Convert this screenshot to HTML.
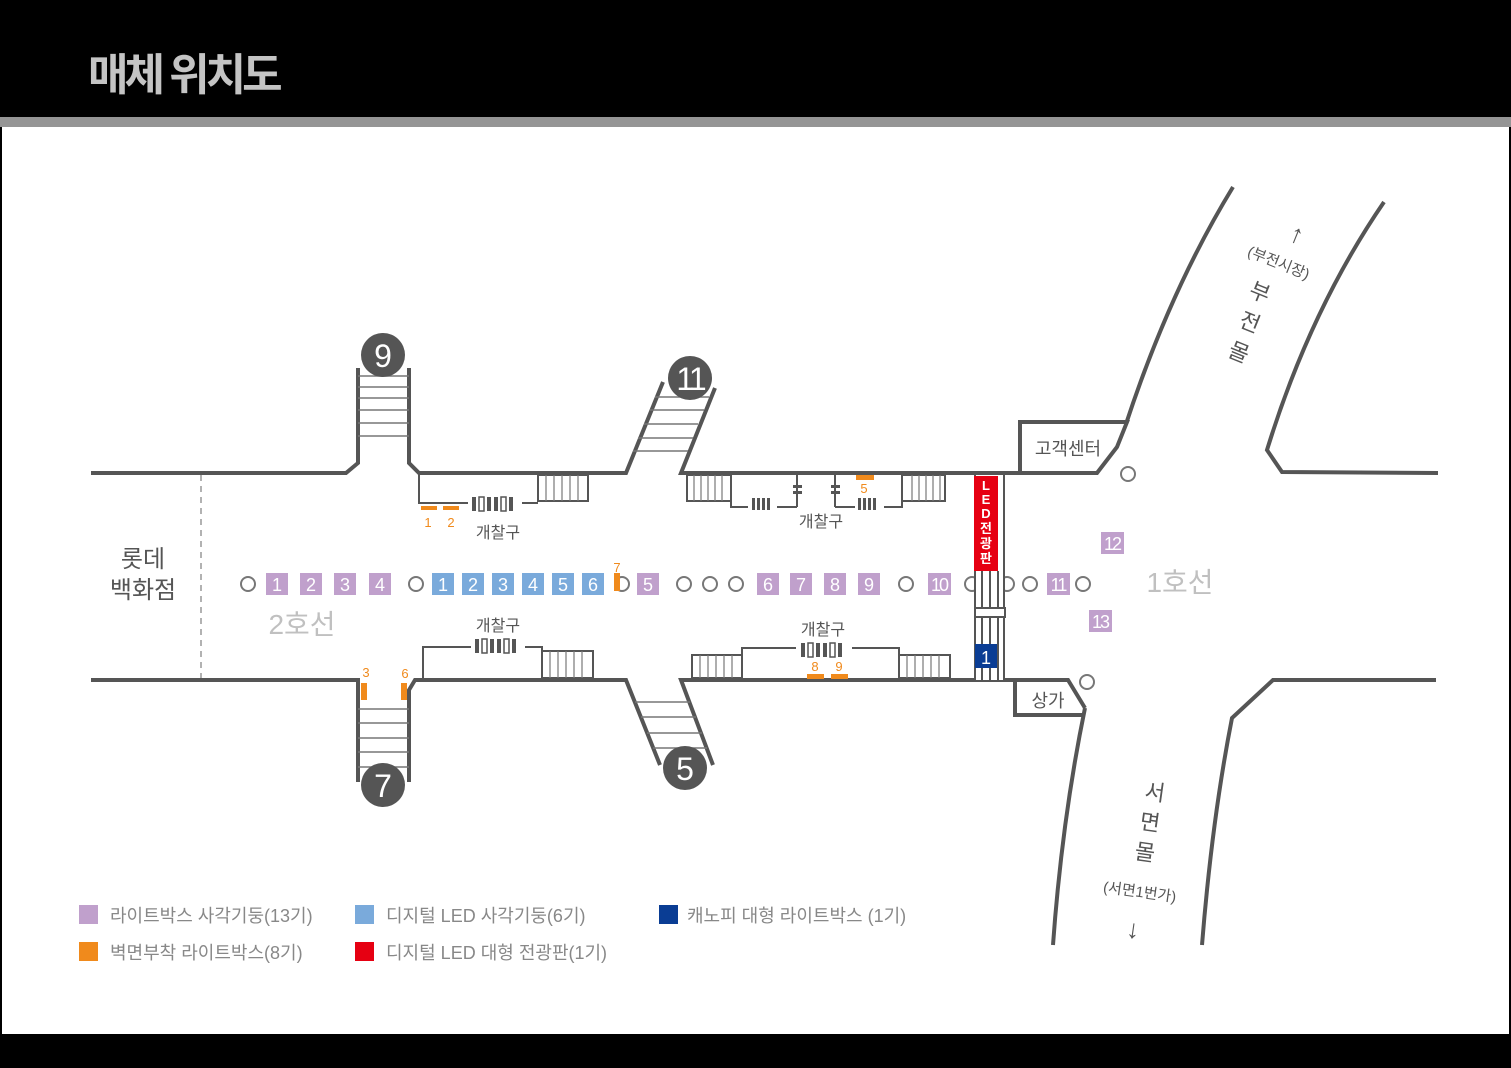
<!DOCTYPE html>
<html><head><meta charset="utf-8"><style>
html,body{margin:0;padding:0;background:#000;}
svg{display:block;}
text{font-family:"Liberation Sans","Noto Sans CJK KR",sans-serif;}
</style></head><body>
<svg width="1511" height="1068" viewBox="0 0 1511 1068" xmlns="http://www.w3.org/2000/svg">
<rect x="0" y="0" width="1511" height="1068" fill="#000"/>
<rect x="0" y="117" width="1511" height="10" fill="#959595"/>
<rect x="2" y="127" width="1507" height="907" fill="#fff"/>
<text x="88" y="90" font-size="44" font-weight="bold" fill="#c4c4c4" letter-spacing="-4">매체 위치도</text>

<g stroke="#555" stroke-width="4" fill="none" stroke-linejoin="miter">
<polyline points="91,473 346,473 358,463 358,368"/>
<polyline points="409,368 409,463 419,473 626,473 663,382"/>
<polyline points="715,388 681,473 1097,473 1117,447 1127,422 1020,422 1020,473"/>
<path d="M1126,424 Q1170,290 1233,187"/>
<path d="M1384,202 Q1310,310 1267,450 L1282,472 L1438,473"/>
<polyline points="91,680 358,680 358,782"/>
<polyline points="409,782 409,690 415,680 626,680 660,765"/>
<polyline points="713,765 681,680 1068,680 1085,708"/>
<polyline points="1015,680 1015,715 1083,715"/>
<path d="M1085,708 Q1062,820 1053,945"/>
<path d="M1202,945 Q1212,820 1232,718 L1273,680 L1436,680"/>
</g>
<line x1="201" y1="475" x2="201" y2="678" stroke="#999" stroke-width="1.5" stroke-dasharray="6,5"/>

<g stroke="#777" stroke-width="1.5">
<line x1="358" y1="376" x2="409" y2="376"/><line x1="358" y1="387" x2="409" y2="387"/><line x1="358" y1="398" x2="409" y2="398"/><line x1="358" y1="410" x2="409" y2="410"/><line x1="358" y1="423" x2="409" y2="423"/><line x1="358" y1="436" x2="409" y2="436"/>
<line x1="655" y1="397" x2="709" y2="397"/><line x1="650" y1="410" x2="704" y2="410"/><line x1="644" y1="424" x2="698" y2="424"/><line x1="638" y1="438" x2="693" y2="438"/><line x1="633" y1="451" x2="688" y2="451"/>
<line x1="358" y1="709" x2="409" y2="709"/><line x1="358" y1="723" x2="409" y2="723"/><line x1="358" y1="738" x2="409" y2="738"/><line x1="358" y1="752" x2="409" y2="752"/><line x1="358" y1="767" x2="409" y2="767"/>
<line x1="635" y1="702" x2="690" y2="702"/><line x1="641" y1="717" x2="696" y2="717"/><line x1="647" y1="733" x2="702" y2="733"/><line x1="653" y1="748" x2="707" y2="748"/>
</g>
<g fill="#555">
<circle cx="383" cy="355" r="22"/><circle cx="690" cy="378" r="22"/><circle cx="383" cy="785" r="22"/><circle cx="685" cy="768" r="22"/>
</g>
<g fill="#fff" font-size="32" text-anchor="middle">
<text x="383" y="367">9</text><text x="690" y="390" letter-spacing="-3">11</text><text x="383" y="797">7</text><text x="685" y="780">5</text>
</g>

<g stroke="#555" stroke-width="2" fill="none">
<polyline points="419,473 419,503 468,503"/><line x1="522" y1="503" x2="538" y2="503"/>
<rect x="538" y="475" width="50" height="26"/>
<polyline points="731,475 731,507 748,507"/><line x1="777" y1="507" x2="797" y2="507"/><line x1="797" y1="475" x2="797" y2="507"/>
<line x1="835" y1="475" x2="835" y2="507"/><line x1="835" y1="507" x2="855" y2="507"/><polyline points="884,507 902,507 902,475"/>
<rect x="687" y="475" width="44" height="26"/><rect x="902" y="475" width="43" height="26"/>
<polyline points="423,678 423,647 471,647"/><polyline points="525,647 542,647 542,678"/>
<rect x="542" y="651" width="51" height="27"/>
<polyline points="742,678 742,648 796,648"/><polyline points="852,648 899,648 899,678"/>
<rect x="692" y="655" width="50" height="23"/><rect x="899" y="655" width="51" height="23"/>
</g>
<g stroke="#777" stroke-width="1.2">
<line x1="546" y1="475" x2="546" y2="501"/><line x1="554" y1="475" x2="554" y2="501"/><line x1="562" y1="475" x2="562" y2="501"/><line x1="570" y1="475" x2="570" y2="501"/><line x1="578" y1="475" x2="578" y2="501"/>
<line x1="694" y1="475" x2="694" y2="501"/><line x1="701" y1="475" x2="701" y2="501"/><line x1="708" y1="475" x2="708" y2="501"/><line x1="715" y1="475" x2="715" y2="501"/><line x1="722" y1="475" x2="722" y2="501"/>
<line x1="912" y1="475" x2="912" y2="501"/><line x1="919" y1="475" x2="919" y2="501"/><line x1="926" y1="475" x2="926" y2="501"/><line x1="933" y1="475" x2="933" y2="501"/><line x1="940" y1="475" x2="940" y2="501"/>
<line x1="550" y1="651" x2="550" y2="678"/><line x1="558" y1="651" x2="558" y2="678"/><line x1="566" y1="651" x2="566" y2="678"/><line x1="574" y1="651" x2="574" y2="678"/><line x1="582" y1="651" x2="582" y2="678"/>
<line x1="700" y1="655" x2="700" y2="678"/><line x1="708" y1="655" x2="708" y2="678"/><line x1="716" y1="655" x2="716" y2="678"/><line x1="724" y1="655" x2="724" y2="678"/><line x1="732" y1="655" x2="732" y2="678"/>
<line x1="907" y1="655" x2="907" y2="678"/><line x1="915" y1="655" x2="915" y2="678"/><line x1="923" y1="655" x2="923" y2="678"/><line x1="931" y1="655" x2="931" y2="678"/><line x1="939" y1="655" x2="939" y2="678"/>
</g>
<g fill="#555">
<rect x="472" y="497" width="4" height="14"/><rect x="479" y="497" width="5" height="14" fill="none" stroke="#555" stroke-width="1.5"/><rect x="487" y="497" width="4" height="14"/><rect x="494" y="497" width="4" height="14"/><rect x="501" y="497" width="5" height="14" fill="none" stroke="#555" stroke-width="1.5"/><rect x="509" y="497" width="4" height="14"/>
<rect x="752" y="498" width="3" height="12"/><rect x="757" y="498" width="3" height="12"/><rect x="762" y="498" width="3" height="12"/><rect x="767" y="498" width="3" height="12"/>
<rect x="858" y="498" width="3" height="12"/><rect x="863" y="498" width="3" height="12"/><rect x="868" y="498" width="3" height="12"/><rect x="873" y="498" width="3" height="12"/>
<rect x="793" y="485" width="9" height="3"/><rect x="793" y="491" width="9" height="3"/><rect x="831" y="485" width="9" height="3"/><rect x="831" y="491" width="9" height="3"/>
<rect x="475" y="639" width="4" height="14"/><rect x="482" y="639" width="5" height="14" fill="none" stroke="#555" stroke-width="1.5"/><rect x="490" y="639" width="4" height="14"/><rect x="497" y="639" width="4" height="14"/><rect x="504" y="639" width="5" height="14" fill="none" stroke="#555" stroke-width="1.5"/><rect x="512" y="639" width="4" height="14"/>
<rect x="801" y="643" width="4" height="14"/><rect x="808" y="643" width="5" height="14" fill="none" stroke="#555" stroke-width="1.5"/><rect x="816" y="643" width="4" height="14"/><rect x="823" y="643" width="4" height="14"/><rect x="830" y="643" width="5" height="14" fill="none" stroke="#555" stroke-width="1.5"/><rect x="838" y="643" width="4" height="14"/>
</g>

<g fill="#f08a1c">
<rect x="421" y="506" width="16" height="4"/><rect x="443" y="506" width="16" height="4"/>
<rect x="856" y="475" width="18" height="5"/>
<rect x="361" y="683" width="6" height="17"/><rect x="401" y="683" width="6" height="17"/>
<rect x="807" y="674" width="17" height="5"/><rect x="831" y="674" width="17" height="5"/>
</g>
<g fill="#f08a1c" font-size="13" text-anchor="middle">
<text x="428" y="527">1</text><text x="451" y="527">2</text><text x="864" y="493">5</text><text x="366" y="677">3</text><text x="405" y="678">6</text><text x="617" y="572">7</text><text x="815" y="671">8</text><text x="839" y="671">9</text>
</g>

<g fill="#555" font-size="16" text-anchor="middle">
<text x="498" y="538">개찰구</text><text x="821" y="527">개찰구</text><text x="498" y="631">개찰구</text><text x="823" y="635">개찰구</text>
<text x="1068" y="455" font-size="18">고객센터</text><text x="1048" y="707" font-size="18">상가</text>
<text x="143" y="567" font-size="24">롯데</text><text x="143" y="598" font-size="24">백화점</text>
</g>
<text x="302" y="634" font-size="28" fill="#c0c0c0" text-anchor="middle">2호선</text>
<text x="1180" y="592" font-size="28" fill="#c0c0c0" text-anchor="middle">1호선</text>

<g fill="#fff" stroke="#777" stroke-width="2">
<circle cx="248" cy="584" r="7"/><circle cx="416" cy="584" r="7"/><circle cx="622" cy="584" r="7"/><circle cx="684" cy="584" r="7"/><circle cx="710" cy="584" r="7"/><circle cx="736" cy="584" r="7"/><circle cx="906" cy="584" r="7"/><circle cx="972" cy="584" r="7"/><circle cx="1007" cy="584" r="7"/><circle cx="1030" cy="584" r="7"/><circle cx="1083" cy="584" r="7"/><circle cx="1128" cy="474" r="7"/><circle cx="1087" cy="682" r="7"/>
</g>
<rect x="614" y="573" width="6" height="18" fill="#f08a1c"/>
<g fill="#c0a0cc">
<rect x="266" y="573" width="22" height="22"/><rect x="300" y="573" width="22" height="22"/><rect x="334" y="573" width="22" height="22"/><rect x="369" y="573" width="22" height="22"/>
<rect x="637" y="573" width="22" height="22"/><rect x="757" y="573" width="22" height="22"/><rect x="790" y="573" width="22" height="22"/><rect x="824" y="573" width="22" height="22"/><rect x="858" y="573" width="22" height="22"/><rect x="928" y="573" width="23" height="22"/><rect x="1047" y="573" width="23" height="22"/>
<rect x="1101" y="532" width="23" height="22"/><rect x="1089" y="610" width="23" height="22"/>
</g>
<g fill="#7aaadb">
<rect x="432" y="573" width="22" height="22"/><rect x="462" y="573" width="22" height="22"/><rect x="492" y="573" width="22" height="22"/><rect x="522" y="573" width="22" height="22"/><rect x="552" y="573" width="22" height="22"/><rect x="582" y="573" width="22" height="22"/>
</g>
<g fill="#fff" font-size="18" text-anchor="middle">
<text x="277" y="591">1</text><text x="311" y="591">2</text><text x="345" y="591">3</text><text x="380" y="591">4</text>
<text x="443" y="591">1</text><text x="473" y="591">2</text><text x="503" y="591">3</text><text x="533" y="591">4</text><text x="563" y="591">5</text><text x="593" y="591">6</text>
<text x="648" y="591">5</text><text x="768" y="591">6</text><text x="801" y="591">7</text><text x="835" y="591">8</text><text x="869" y="591">9</text>
<text x="939" y="591" letter-spacing="-2">10</text><text x="1058" y="591" letter-spacing="-2">11</text><text x="1112" y="550" letter-spacing="-2">12</text><text x="1100" y="628" letter-spacing="-2">13</text>
</g>

<rect x="975" y="571" width="29" height="109" fill="#fff"/>
<g stroke="#555" stroke-width="2">
<line x1="975" y1="473" x2="975" y2="680"/><line x1="1004" y1="473" x2="1004" y2="680"/>
<line x1="982" y1="571" x2="982" y2="680"/><line x1="990" y1="571" x2="990" y2="680"/><line x1="998" y1="571" x2="998" y2="680"/>
</g>
<rect x="975" y="608" width="30" height="9" fill="#fff" stroke="#555" stroke-width="2"/>
<rect x="974" y="476" width="24" height="95" fill="#e60012"/>
<rect x="975" y="644" width="22" height="24" fill="#0a3d94"/>
<text x="986" y="664" fill="#fff" font-size="18" text-anchor="middle">1</text>
<g fill="#fff" font-size="13" font-weight="bold" text-anchor="middle">
<text x="986" y="490">L</text><text x="986" y="504">E</text><text x="986" y="518">D</text><text x="986" y="533">전</text><text x="986" y="548">광</text><text x="986" y="563">판</text>
</g>

<g fill="#555" text-anchor="middle">
<text x="1297" y="243" font-size="26" font-weight="bold" transform="rotate(22 1297 234)">↑</text>
<text x="1279" y="268" font-size="15" transform="rotate(22 1279 262)">(부전시장)</text>
<text x="1260" y="300" font-size="22" transform="rotate(22 1260 292)">부</text>
<text x="1250" y="330" font-size="22" transform="rotate(22 1250 322)">전</text>
<text x="1239" y="360" font-size="22" transform="rotate(22 1239 352)">몰</text>
<text x="1155" y="800" font-size="22" transform="rotate(8 1155 792)">서</text>
<text x="1150" y="830" font-size="22" transform="rotate(8 1150 822)">면</text>
<text x="1145" y="860" font-size="22" transform="rotate(8 1145 852)">몰</text>
<text x="1140" y="897" font-size="15" transform="rotate(8 1140 890)">(서면1번가)</text>
<text x="1133" y="938" font-size="26" font-weight="bold" transform="rotate(8 1133 930)">↓</text>
</g>

<rect x="79" y="905" width="19" height="19" fill="#c0a0cc"/>
<rect x="355" y="905" width="19" height="19" fill="#7aaadb"/>
<rect x="659" y="905" width="19" height="19" fill="#0a3d94"/>
<rect x="79" y="942" width="19" height="19" fill="#f08a1c"/>
<rect x="355" y="942" width="19" height="19" fill="#e60012"/>
<g fill="#888" font-size="18">
<text x="110" y="922">라이트박스 사각기둥(13기)</text>
<text x="386" y="922">디지털 LED 사각기둥(6기)</text>
<text x="687" y="922">캐노피 대형 라이트박스 (1기)</text>
<text x="110" y="959">벽면부착 라이트박스(8기)</text>
<text x="386" y="959">디지털 LED 대형 전광판(1기)</text>
</g>
</svg>
</body></html>
